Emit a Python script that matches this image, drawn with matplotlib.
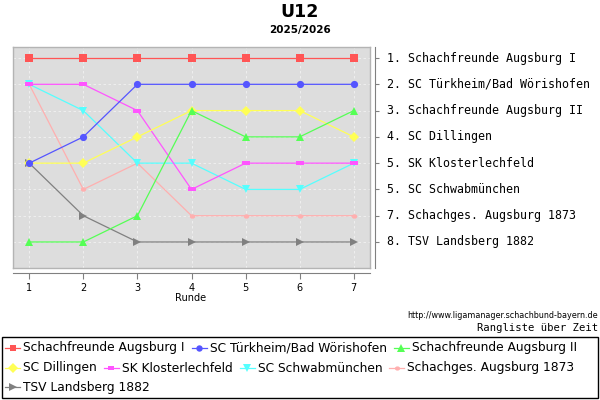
import matplotlib
matplotlib.use("Agg")
import matplotlib.pyplot as plt
from matplotlib.lines import Line2D
from matplotlib.patches import Rectangle
from matplotlib.path import Path
import matplotlib.transforms as mtrans

rounds = [1, 2, 3, 4, 5, 6, 7]
teams = ["Schachfreunde Augsburg I", "SC Türkheim/Bad Wörishofen", "Schachfreunde Augsburg II",
         "SC Dillingen", "SK Klosterlechfeld", "SC Schwabmünchen", "Schachges. Augsburg 1873",
         "TSV Landsberg 1882"]
ranks = [
    [1, 1, 1, 1, 1, 1, 1],
    [5, 4, 2, 2, 2, 2, 2],
    [8, 8, 7, 3, 4, 4, 3],
    [5, 5, 4, 3, 3, 3, 4],
    [2, 2, 3, 6, 5, 5, 5],
    [2, 3, 5, 5, 6, 6, 5],
    [2, 6, 5, 7, 7, 7, 7],
    [5, 7, 8, 8, 8, 8, 8],
]
final_labels = ["1. Schachfreunde Augsburg I", "2. SC Türkheim/Bad Wörishofen",
                "3. Schachfreunde Augsburg II", "4. SC Dillingen", "5. SK Klosterlechfeld",
                "5. SC Schwabmünchen", "7. Schachges. Augsburg 1873", "8. TSV Landsberg 1882"]
colors = ["#FF5555", "#5555FF", "#55FF55", "#FFFF55", "#FF55FF", "#55FFFF", "#FFAFAF", "#808080"]

flat_rect = Path([(-1, -0.6), (1, -0.6), (1, 0.6), (-1, 0.6), (-1, -0.6)],
                 [Path.MOVETO, Path.LINETO, Path.LINETO, Path.LINETO, Path.CLOSEPOLY])
flat_ell = Path.unit_circle().transformed(mtrans.Affine2D().scale(1.0, 0.8))
markers = ["s", "o", "^", "D", flat_rect, "v", flat_ell, ">"]
msizes = [5.2, 5.2, 6.0, 5.2, 5.4, 6.0, 4.0, 6.0]
msizes_leg = [4.4, 4.6, 5.4, 4.6, 4.6, 5.4, 3.8, 5.4]

W, H = 600, 400
fig = plt.figure(figsize=(6, 4), dpi=100)

def fx(px):
    return px / W

def fy(py):
    return 1 - py / H

# main plot area
L, R, T, B = 13, 370, 47, 268
ax = fig.add_axes([fx(L), fy(B), (R - L) / W, (B - T) / H])
ax.set_facecolor("#DDDDDD")
for s in ax.spines.values():
    s.set_color("#B4B4B4")
    s.set_linewidth(1)
ax.set_xlim(0.7, 7.3)
ax.set_ylim(8.99, 0.58)
ax.set_xticks(rounds)
ax.set_yticks(range(1, 9))
ax.tick_params(left=False, bottom=False, labelleft=False, labelbottom=False)
ax.grid(True, color="#F2F2F2", linestyle=(0, (3, 3)), linewidth=0.6)
ax.set_axisbelow(True)
n = len(teams)
for i in range(n):
    ax.plot(rounds, ranks[i], color=colors[i], marker=markers[i], markersize=msizes[i],
            markeredgewidth=0, linewidth=0.9, zorder=10 + (n - i))

# bottom axis
axb = fig.add_axes([fx(L), fy(273), (R - L) / W, 0.0001])
axb.set_xlim(0.7, 7.3)
axb.set_xticks(rounds)
axb.set_xticklabels([str(r) for r in rounds], fontsize=7)
axb.set_yticks([])
for k in ["top", "left", "right"]:
    axb.spines[k].set_visible(False)
axb.spines["bottom"].set_color("#808080")
axb.tick_params(axis="x", length=4, color="#808080", pad=3)
axb.patch.set_alpha(0)
fig.text(fx(191), fy(298), "Runde", fontsize=7, ha="center", va="center")

# right axis
axr = fig.add_axes([fx(375), fy(B), 0.0001, (B - T) / H])
axr.set_ylim(8.99, 0.58)
axr.set_yticks(range(1, 9))
axr.set_xticks([])
for k in ["top", "bottom", "right"]:
    axr.spines[k].set_visible(False)
axr.spines["left"].set_color("#808080")
axr.yaxis.tick_left()
axr.tick_params(axis="y", direction="in", length=3, color="#808080", labelleft=False)
axr.patch.set_alpha(0)
off = axr.get_yaxis_transform() + mtrans.ScaledTranslation(12 / 100, 0, fig.dpi_scale_trans)
for k, lab in enumerate(final_labels):
    axr.text(0, k + 1, lab, transform=off, fontsize=8.4,
             family="DejaVu Sans Mono", va="center", ha="left")

# titles
fig.text(0.5, fy(12), "U12", fontsize=12.5, fontweight="bold", ha="center", va="center")
fig.text(0.5, fy(30), "2025/2026", fontsize=7.5, fontweight="bold", ha="center", va="center")

fig.text(fx(598), fy(316), "http://www.ligamanager.schachbund-bayern.de", fontsize=5.75,
         ha="right", va="center")
fig.text(fx(598), fy(328), "Rangliste über Zeit", fontsize=7.6, family="DejaVu Sans Mono",
         ha="right", va="center")

# legend box
fig.patches.append(Rectangle((fx(2), fy(398)), (596) / W, (398 - 337) / H,
                             transform=fig.transFigure, fill=False, edgecolor="black",
                             linewidth=1))
renderer = fig.canvas.get_renderer()
x = 5
row_y = [348, 368, 387]
row = 0
for i in range(n):
    t = fig.text(0, 0, teams[i], fontsize=8.8, va="center", ha="left")
    tw = t.get_window_extent(renderer).width
    if x + 18 + tw > 596:
        row += 1
        x = 5
    yy = row_y[row]
    fig.lines.append(Line2D([fx(x), fx(x + 15)], [fy(yy), fy(yy)], transform=fig.transFigure,
                            color=colors[i], linewidth=0.9))
    fig.lines.append(Line2D([fx(x + 7.5)], [fy(yy)], transform=fig.transFigure,
                            color=colors[i], marker=markers[i], markersize=msizes_leg[i],
                            markeredgewidth=0, linestyle="none"))
    t.set_position((fx(x + 18), fy(yy)))
    x = x + 18 + tw + 7

fig.savefig("out.png", dpi=100)
